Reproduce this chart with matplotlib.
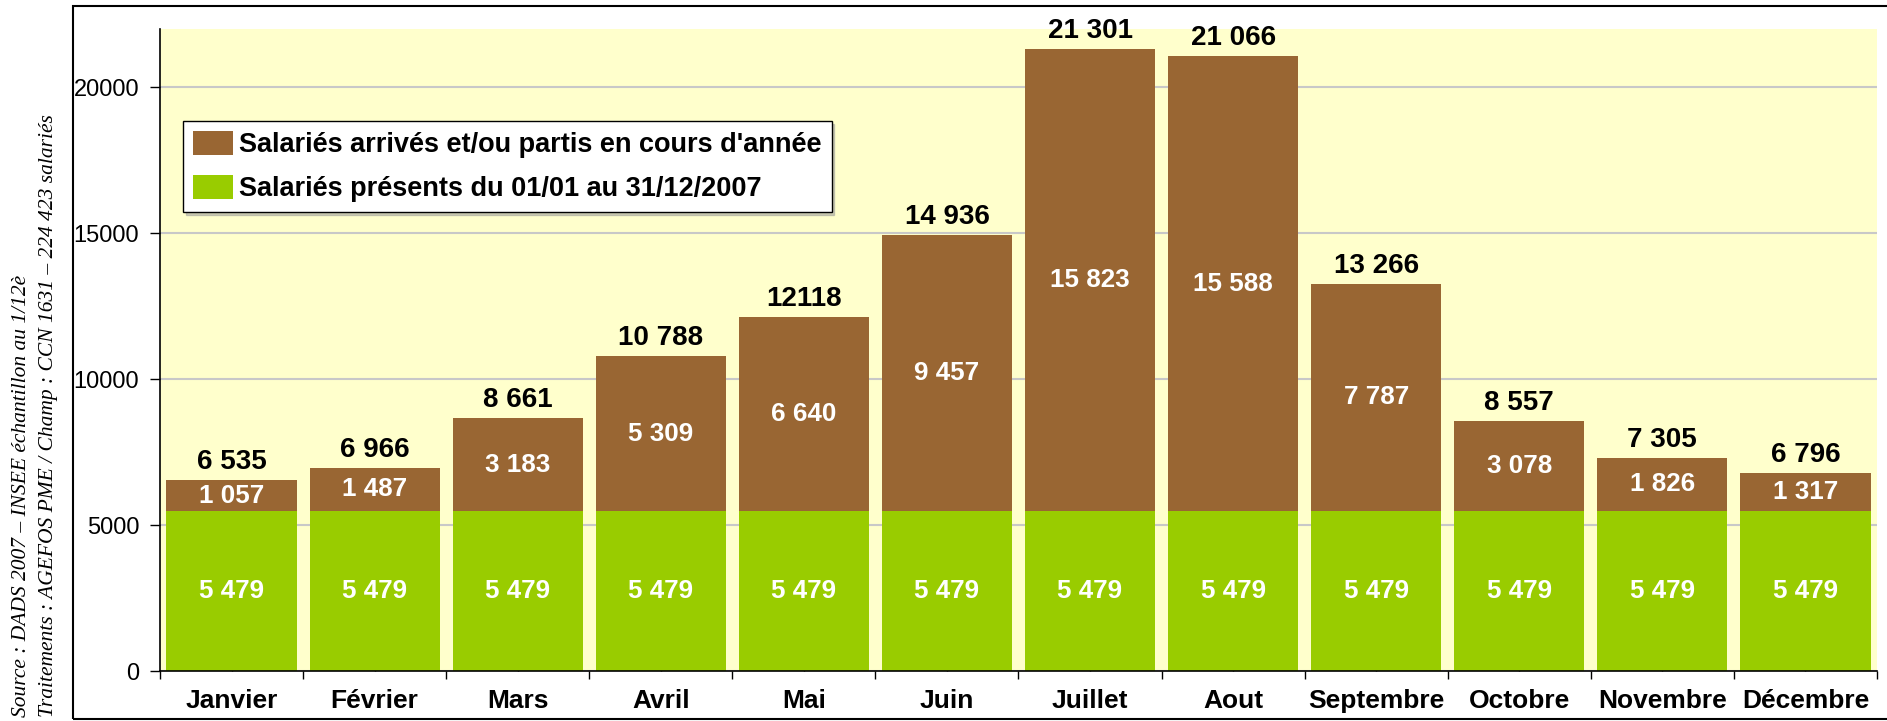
import matplotlib.pyplot as plt
import matplotlib.patches as mpatches
from matplotlib.legend_handler import HandlerPatch
import numpy as np

# données
mois = ["Janvier", "Février", "Mars", "Avril", "Mai", "Juin", "Juillet", "Aout",
        "Septembre", "Octobre", "Novembre", "Décembre"]
presents = [5479] * 12
mouvements = [1057, 1487, 3183, 5309, 6640, 9457, 15823, 15588, 7787, 3078, 1826, 1317]
total_labels = ["6 535", "6 966", "8 661", "10 788", "12118", "14 936", "21 301",
                "21 066", "13 266", "8 557", "7 305", "6 796"]

c_brun = "#996633"
c_vert = "#99CC00"
c_fond = "#FFFFCC"

plt.rcParams["font.family"] = ["Liberation Sans", "DejaVu Sans"]


def fmt(v):
    return f"{v:,}".replace(",", " ")


# carré de légende décalé vers la droite dans sa boîte
def carre(legend, orig_handle, xdescent, ydescent, width, height, fontsize):
    w = 20.2
    return mpatches.Rectangle((-xdescent + width - w, -ydescent), w, height)


fig = plt.figure(figsize=(18.87, 7.21), dpi=100)
ax = fig.add_axes([160 / 1887, 50 / 721, 1717 / 1887, 642 / 721])
ax.set_facecolor(c_fond)

x = np.arange(len(mois))
presents = np.array(presents)
mouvements = np.array(mouvements)

ax.bar(x, presents, width=0.91, color=c_vert, zorder=2,
       label="Salariés présents du 01/01 au 31/12/2007")
ax.bar(x, mouvements, width=0.91, bottom=presents, color=c_brun, zorder=2,
       label="Salariés arrivés et/ou partis en cours d'année")

# étiquettes
for i in range(len(mois)):
    ax.text(x[i], presents[i] / 2, fmt(presents[i]), ha="center", va="center",
            color="white", fontsize=18.7, fontweight="bold", zorder=3)
    ax.text(x[i], presents[i] + mouvements[i] / 2, fmt(mouvements[i]), ha="center",
            va="center", color="white", fontsize=18.7, fontweight="bold", zorder=3)
    ax.annotate(total_labels[i], (x[i], presents[i] + mouvements[i]),
                xytext=(0, 8), textcoords="offset points", ha="center",
                va="baseline", fontsize=20, fontweight="bold", color="black",
                annotation_clip=False, zorder=3)

ax.set_xlim(-0.5, 11.5)
ax.set_ylim(0, 22000)
ax.set_yticks([0, 5000, 10000, 15000, 20000])
ax.set_yticklabels(["0", "5000", "10000", "15000", "20000"], fontsize=17)
ax.yaxis.grid(True, color="#C8C8C8", linewidth=1.5, zorder=1)
ax.set_axisbelow(True)

ax.set_xticks(x)
ax.set_xticklabels(mois, fontsize=19, fontweight="bold")
ax.set_xticks(np.arange(-0.5, 12, 1), minor=True)
ax.tick_params(axis="x", which="major", direction="in", length=6, pad=13, width=1)
ax.tick_params(axis="x", which="minor", direction="out", length=6, width=1)
ax.tick_params(axis="y", direction="out", length=7, width=1, pad=8)

for s in ["top", "right"]:
    ax.spines[s].set_visible(False)
for s in ["left", "bottom"]:
    ax.spines[s].set_linewidth(1.2)

handles, labels = ax.get_legend_handles_labels()
leg = ax.legend(handles[::-1], labels[::-1], loc="upper left",
                bbox_to_anchor=(23 / 1717, 550 / 642), borderaxespad=0,
                prop={"weight": "bold", "size": 19.5},
                frameon=True, fancybox=False, edgecolor="black",
                handlelength=1.5, handleheight=1.0, handletextpad=0.22,
                labelspacing=0.62, borderpad=0.36,
                handler_map={mpatches.Rectangle: HandlerPatch(patch_func=carre)},
                shadow={"ox": 2, "oy": -2, "color": "#999999"})
leg.get_frame().set_linewidth(1.0)

# cadre
fig.patches.append(mpatches.Rectangle((73 / 1887, 2 / 721), 1.02, 713 / 721,
                                      transform=fig.transFigure, fill=False,
                                      edgecolor="black", linewidth=1.5))

# source
fig.text(22 / 1887, 4 / 721, "Source : DADS 2007 – INSEE échantillon au 1/12è",
         rotation=90, ha="center", va="bottom", fontsize=15.5, style="italic",
         family=["Liberation Serif", "DejaVu Serif"])
fig.text(49 / 1887, 4 / 721,
         "Traitements : AGEFOS PME / Champ : CCN 1631 – 224 423 salariés",
         rotation=90, ha="center", va="bottom", fontsize=15.5, style="italic",
         family=["Liberation Serif", "DejaVu Serif"])

fig.savefig("out.png", dpi=100)
